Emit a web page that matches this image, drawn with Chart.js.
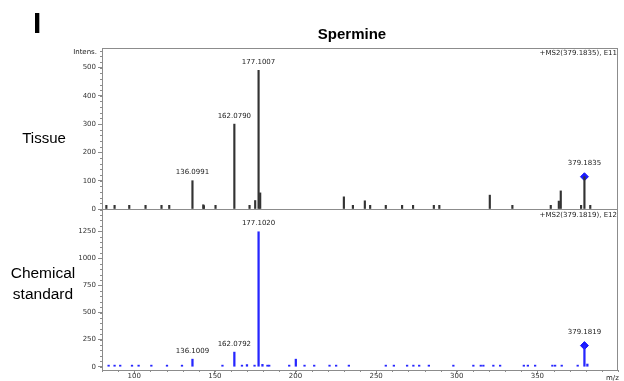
<!DOCTYPE html>
<html>
<head>
<meta charset="utf-8">
<script src="https://cdn.jsdelivr.net/npm/chart.js@4/dist/chart.umd.min.js"></script>
<style>
body{margin:0;background:#fff}
#contenedor{position:relative;width:624px;height:381px;overflow:hidden}
#grafico{position:absolute;left:0;top:0}
.txt{position:absolute;white-space:nowrap;color:#000;font-family:'Liberation Sans',Arial,sans-serif;line-height:1}
.chico{font-family:'DejaVu Sans',sans-serif;font-size:7px;color:#222}
</style>
</head>
<body>
<div id="contenedor">
  <canvas id="grafico" width="624" height="381"></canvas>
  <div class="txt" style="left:33px;top:8px;font-size:30px;font-weight:bold">I</div>
  <div class="txt" style="left:302px;width:100px;text-align:center;top:25.7px;font-size:15px;font-weight:bold">Spermine</div>
  <div class="txt" style="left:0;width:88px;text-align:center;top:129.7px;font-size:15px">Tissue</div>
  <div class="txt" style="left:0;width:86px;text-align:center;top:261.7px;font-size:15.5px;line-height:21px">Chemical<br>standard</div>
  <div class="txt chico" style="right:527px;top:48.6px">Intens.</div>
  <div class="txt chico" style="right:7px;top:49.6px">+MS2(379.1835), E11</div>
  <div class="txt chico" style="right:7px;top:211.6px">+MS2(379.1819), E12</div>
  <div class="txt chico" style="left:606px;top:374.5px">m/z</div>
</div>
<script>
const tejidoMz = [82.7, 87.8, 96.9, 107.0, 116.9, 121.7, 136.0991, 142.8, 143.2, 150.4, 162.0790, 171.5, 175.0, 177.1007, 178.1,
  230.0, 235.6, 243.0, 246.3, 256.0, 266.1, 272.9, 285.8, 289.2, 320.5, 334.5, 358.3, 363.3, 364.5, 377.1, 379.1835, 382.8]
const tejidoInt = [13, 13, 13, 13, 13, 13, 100, 15, 12, 13, 300, 13, 30, 490, 57,
  43, 13, 29, 13, 13, 13, 13, 13, 13, 49, 13, 13, 28, 64, 13, 114, 13]

const estandarMz = [84.1, 87.8, 91.3, 98.6, 102.7, 110.6, 120.3, 129.6, 136.1009, 154.7, 162.0792, 166.8, 169.9, 174.6, 177.1020, 179.5,
  182.6, 183.7, 196.1, 200.2, 205.6, 211.6, 221.1, 225.2, 233.1, 256.0, 261.0, 269.2, 273.1, 276.7, 282.7, 297.9,
  310.3, 314.9, 316.5, 322.7, 326.9, 341.6, 344.1, 348.6, 359.3, 361.0, 365.1, 375.0, 379.1819, 381.0]
const estandarInt = [15, 15, 15, 15, 15, 15, 15, 15, 70, 15, 135, 15, 20, 15, 1245, 22,
  15, 15, 15, 70, 15, 15, 15, 15, 15, 15, 15, 15, 15, 15, 15, 15,
  15, 15, 15, 15, 15, 15, 15, 15, 15, 15, 15, 15, 195, 25]

// picos con etiqueta y precursor (rombo azul)
const tejidoEtiquetas = [136.0991, 162.0790, 177.1007, 379.1835]
const estandarEtiquetas = [136.1009, 162.0792, 177.1020, 379.1819]
const precursorMz = [379.1835, 379.1819]
const precursorInt = [114, 195]

const ticksX = [100, 150, 200, 250, 300, 350]
const ticksTejido = [0, 100, 200, 300, 400, 500]
const ticksEstandar = [0, 250, 500, 750, 1000, 1250]

const gris = '#8c8c8c'
Chart.defaults.font.family = "'DejaVu Sans', sans-serif"
Chart.defaults.font.size = 7
Chart.defaults.color = '#333'

const puntos = (xs, ys) => xs.map((x, i) => ({ x: x, y: ys[i] }))

// marcas menores de los ejes
const ticksMenores = {
  id: 'ticksMenores',
  afterDraw(chart) {
    const ctx = chart.ctx
    const area = chart.chartArea
    ctx.save()
    ctx.strokeStyle = gris
    ctx.lineWidth = 1
    const menores = [['y', 0, 560, 20], ['y2', 0, 1450, 50]]
    menores.forEach(([id, a, b, paso]) => {
      const s = chart.scales[id]
      for (let v = a; v <= b; v += paso) {
        const y = Math.round(s.getPixelForValue(v)) + 0.5
        ctx.beginPath()
        ctx.moveTo(area.left - 2, y)
        ctx.lineTo(area.left, y)
        ctx.stroke()
      }
    })
    const sx = chart.scales.x
    for (let v = 80; v <= 400; v += 10) {
      const x = Math.round(sx.getPixelForValue(v)) + 0.5
      ctx.beginPath()
      ctx.moveTo(x, area.bottom)
      ctx.lineTo(x, area.bottom + 2)
      ctx.stroke()
    }
    // marco de los paneles
    const sy = chart.scales.y
    ctx.strokeRect(area.left + 0.5, Math.round(sy.top) + 0.5, area.right - area.left - 1, Math.round(sy.bottom - sy.top))
    ctx.beginPath()
    ctx.moveTo(area.right - 0.5, sy.bottom)
    ctx.lineTo(area.right - 0.5, area.bottom)
    ctx.stroke()
    ctx.restore()
  }
}

// etiquetas de m/z sobre los picos
const etiquetasPicos = {
  id: 'etiquetasPicos',
  afterDatasetsDraw(chart) {
    const ctx = chart.ctx
    ctx.save()
    ctx.font = "7px 'DejaVu Sans', sans-serif"
    ctx.fillStyle = '#222'
    ctx.textAlign = 'center'
    ctx.textBaseline = 'alphabetic'
    chart.data.datasets.forEach((ds, i) => {
      if (!ds.etiquetas) return
      const meta = chart.getDatasetMeta(i)
      ds.data.forEach((p, j) => {
        if (!ds.etiquetas.includes(p.x)) return
        const bar = meta.data[j]
        const extra = precursorMz.includes(p.x) ? 5 : 0
        ctx.fillText(p.x.toFixed(4), bar.x, bar.y - 6.5 - extra)
      })
    })
    ctx.restore()
  }
}

const ejeY = (id, min, max, lista, peso) => ({
  type: 'linear',
  position: 'left',
  stack: 'paneles',
  stackWeight: 1,
  weight: peso,
  min: min,
  max: max,
  afterBuildTicks: s => { s.ticks = lista.map(v => ({ value: v })) },
  afterFit: s => { s.width = 102 },
  ticks: { padding: 2, color: '#333', callback: v => String(v) },
  grid: { drawOnChartArea: false, drawTicks: true, tickLength: 4, tickColor: gris },
  border: { color: gris }
})

const ctx = document.getElementById('grafico').getContext('2d')
const myChart = new Chart(ctx, {
  type: 'bar',
  data: {
    datasets: [{
      label: 'Tissue',
      data: puntos(tejidoMz, tejidoInt),
      yAxisID: 'y',
      backgroundColor: '#333333',
      barThickness: 1.5,
      grouped: false,
      etiquetas: tejidoEtiquetas
    }, {
      label: 'Chemical standard',
      data: puntos(estandarMz, estandarInt),
      yAxisID: 'y2',
      backgroundColor: '#2626ff',
      barThickness: 1.6,
      grouped: false,
      etiquetas: estandarEtiquetas
    }, {
      type: 'scatter',
      label: 'precursor tejido',
      data: puntos([precursorMz[0]], [precursorInt[0]]),
      yAxisID: 'y',
      pointStyle: 'rectRot',
      pointRadius: 4,
      backgroundColor: '#1a1aff',
      borderColor: '#1a1aff'
    }, {
      type: 'scatter',
      label: 'precursor estandar',
      data: puntos([precursorMz[1]], [precursorInt[1]]),
      yAxisID: 'y2',
      pointStyle: 'rectRot',
      pointRadius: 4,
      backgroundColor: '#1a1aff',
      borderColor: '#1a1aff'
    }]
  },
  options: {
    responsive: false,
    animation: false,
    events: [],
    layout: { padding: { left: 0, right: 6, top: 48, bottom: 0 } },
    plugins: { legend: { display: false }, tooltip: { enabled: false } },
    scales: {
      x: {
        type: 'linear',
        min: 80,
        max: 400,
        offset: false,
        afterBuildTicks: s => { s.ticks = ticksX.map(v => ({ value: v })) },
        afterFit: s => { s.height = 11 },
        ticks: { padding: -2, maxRotation: 0, autoSkip: false, color: '#333', callback: v => String(v) },
        grid: { drawOnChartArea: false, offset: false, tickLength: 4, tickColor: gris },
        border: { color: gris }
      },
      y: ejeY('y', 0, 569, ticksTejido, 2),
      y2: ejeY('y2', -30, 1455, ticksEstandar, 1)
    }
  },
  plugins: [ticksMenores, etiquetasPicos]
})
</script>
</body>
</html>
